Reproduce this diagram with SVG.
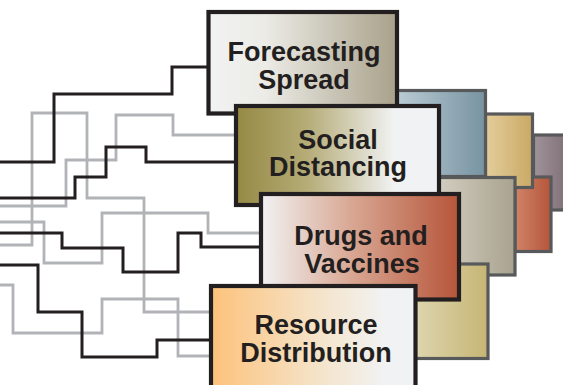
<svg xmlns="http://www.w3.org/2000/svg" width="563" height="385" viewBox="0 0 563 385">
<defs>
<linearGradient id="gFore" x1="0" y1="0" x2="1" y2="0"><stop offset="0" stop-color="#f1f2f3"/><stop offset="0.3" stop-color="#ecebe6"/><stop offset="1" stop-color="#a9a18a"/></linearGradient>
<linearGradient id="gSoc" x1="0" y1="0" x2="1" y2="0"><stop offset="0" stop-color="#958943"/><stop offset="0.35" stop-color="#b5ac77"/><stop offset="0.78" stop-color="#f1f2f3"/><stop offset="1" stop-color="#f1f2f3"/></linearGradient>
<linearGradient id="gDrug" x1="0" y1="0" x2="1" y2="0"><stop offset="0" stop-color="#f1f2f3"/><stop offset="0.45" stop-color="#d9a894"/><stop offset="1" stop-color="#b6553a"/></linearGradient>
<linearGradient id="gRes" x1="0" y1="0" x2="1" y2="0"><stop offset="0" stop-color="#fdc27b"/><stop offset="0.5" stop-color="#f5e2c6"/><stop offset="0.85" stop-color="#f1f2f3"/><stop offset="1" stop-color="#f1f2f3"/></linearGradient>
<linearGradient id="gBlue" x1="0" y1="0" x2="1" y2="0"><stop offset="0" stop-color="#bfd0d9"/><stop offset="1" stop-color="#7793a1"/></linearGradient>
<linearGradient id="gTan" x1="0" y1="0" x2="1" y2="0"><stop offset="0" stop-color="#e4cd9c"/><stop offset="1" stop-color="#c9a965"/></linearGradient>
<linearGradient id="gMauve" x1="0" y1="0" x2="1" y2="0"><stop offset="0" stop-color="#a1939a"/><stop offset="1" stop-color="#7a6a71"/></linearGradient>
<linearGradient id="gBeige" x1="0" y1="0" x2="1" y2="0"><stop offset="0" stop-color="#dcd8cb"/><stop offset="1" stop-color="#a8a28e"/></linearGradient>
<linearGradient id="gRed" x1="0" y1="0" x2="1" y2="0"><stop offset="0" stop-color="#d08468"/><stop offset="1" stop-color="#b5553a"/></linearGradient>
<linearGradient id="gKhaki" x1="0" y1="0" x2="1" y2="0"><stop offset="0" stop-color="#e3dcbb"/><stop offset="1" stop-color="#c6b574"/></linearGradient>
</defs>
<style>
.blk{fill:none;stroke:#231f20;stroke-width:3;stroke-linejoin:miter}
.gry{fill:none;stroke:#b1b3b6;stroke-width:2.8;stroke-linejoin:miter}
.back{stroke:#58595b;stroke-width:3.2;stroke-linejoin:miter}
.main{stroke:#231f20;stroke-width:4.2;stroke-linejoin:miter}
.lbl{font-family:"Liberation Sans",Arial,Helvetica,sans-serif;font-weight:bold;font-size:27px;fill:#231f20;text-anchor:middle}
</style>
<g id="connectors">
<path class="gry" d="M0,245 H32 V113 H87 V198 H144 V312 H212"/>
<path class="gry" d="M0,206 H66 V160 H116 V115 H173 V135 H237"/>
<path class="gry" d="M0,222 H44 V263 H102 V213 H208 V233 H262"/>
<path class="gry" d="M0,285 H13 V333 H102 V299 H178 V356 H212"/>
<path class="blk" d="M0,162 H54 V94 H172 V67 H209"/>
<path class="blk" d="M0,198 H75 V177 H106 V147 H146 V162 H237"/>
<path class="blk" d="M0,233 H62 V248 H123 V272 H178 V233 H201 V247 H262"/>
<path class="blk" d="M0,265 H38 V312 H82 V357 H157 V340 H212"/>
</g>
<g id="backdrop">
<rect class="back" x="533.5" y="135" width="40" height="75" fill="url(#gMauve)"/>
<rect class="back" x="515" y="177" width="36" height="74.5" fill="url(#gRed)"/>
<rect class="back" x="485.5" y="114" width="47" height="73.5" fill="url(#gTan)"/>
<rect class="back" x="390" y="90.5" width="95.5" height="86" fill="url(#gBlue)"/>
<rect class="back" x="420" y="177.5" width="95" height="97.5" fill="url(#gBeige)"/>
<rect class="back" x="400" y="264" width="88" height="94.5" fill="url(#gKhaki)"/>
</g>
<g id="forecasting-spread">
<rect class="main" x="208.5" y="12" width="188.5" height="101.5" fill="url(#gFore)"/>
<text class="lbl" x="304" y="61">Forecasting</text>
<text class="lbl" x="304" y="89">Spread</text>
</g>
<g id="social-distancing">
<rect class="main" x="236" y="106" width="203" height="99" fill="url(#gSoc)"/>
<text class="lbl" x="338" y="149">Social</text>
<text class="lbl" x="338" y="176">Distancing</text>
</g>
<g id="drugs-and-vaccines">
<rect class="main" x="261" y="194" width="198" height="105.5" fill="url(#gDrug)"/>
<text class="lbl" x="361" y="245">Drugs and</text>
<text class="lbl" x="362" y="273">Vaccines</text>
</g>
<g id="resource-distribution">
<rect class="main" x="211" y="286" width="204.5" height="120" fill="url(#gRes)"/>
<text class="lbl" x="316" y="334">Resource</text>
<text class="lbl" x="316" y="362">Distribution</text>
</g>
</svg>
